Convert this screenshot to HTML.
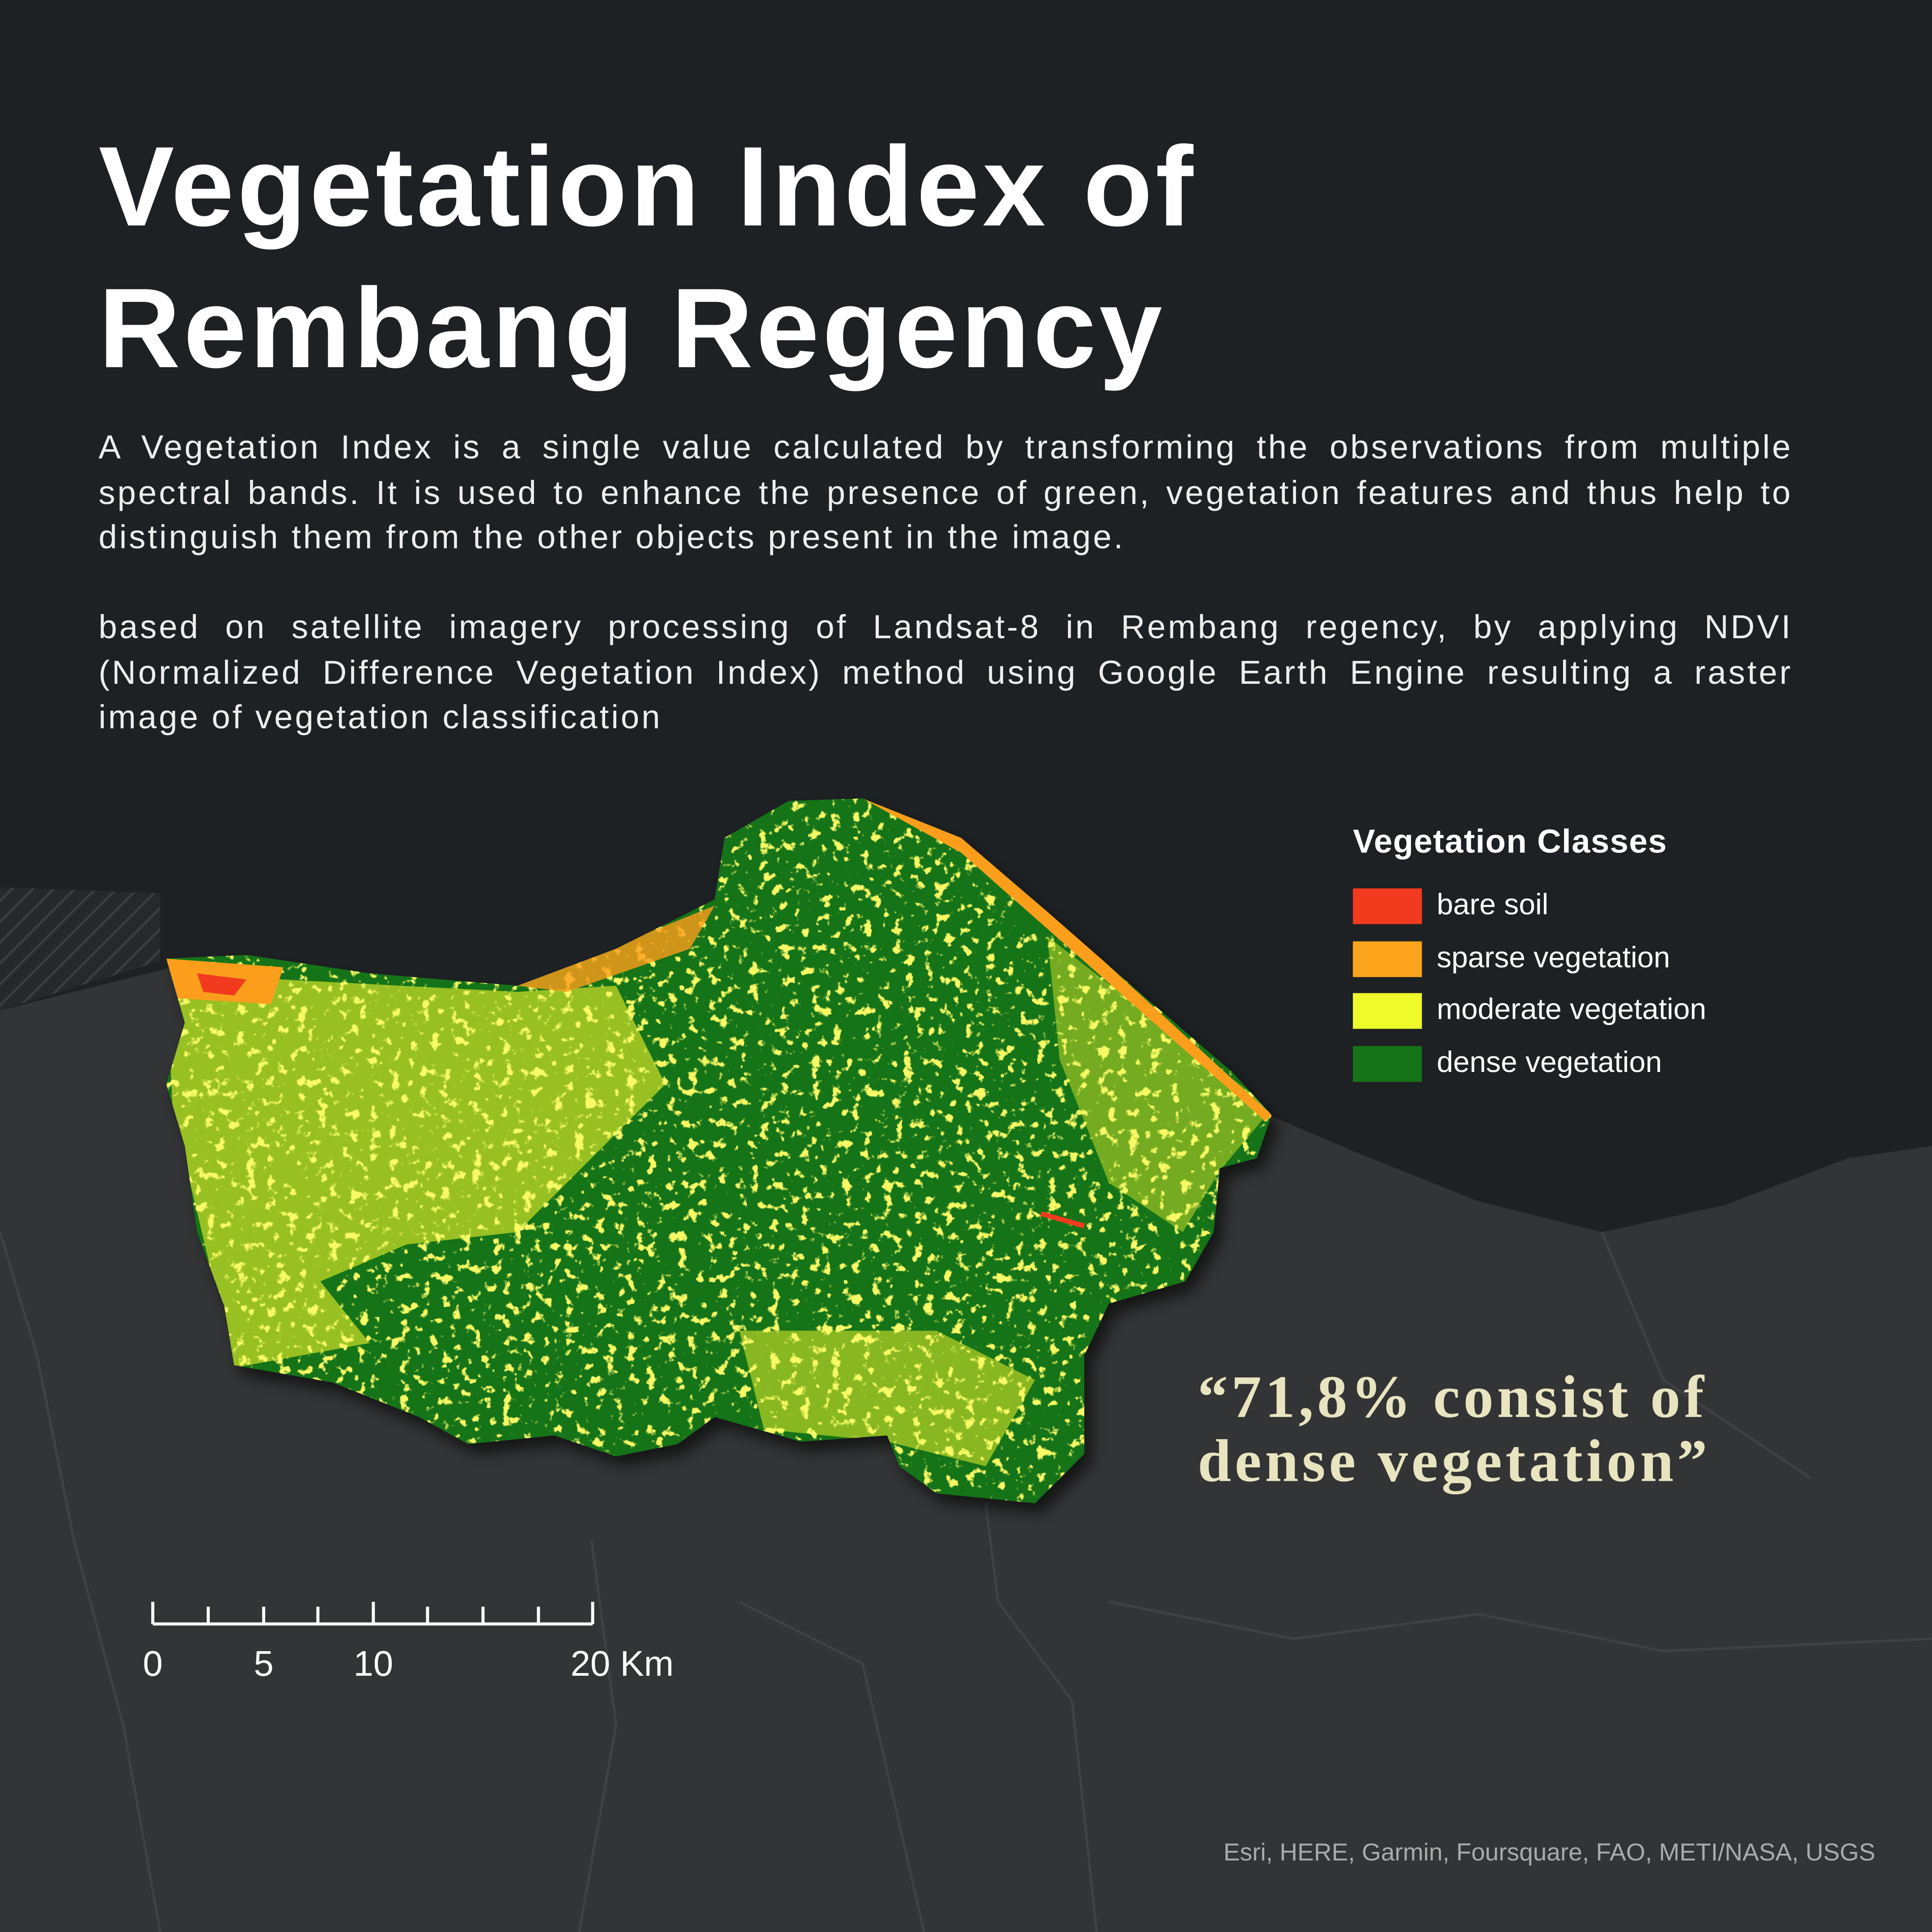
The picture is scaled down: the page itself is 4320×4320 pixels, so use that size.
<!DOCTYPE html>
<html><head><meta charset="utf-8">
<style>
html,body{margin:0;padding:0;background:#1e2124;}
#wrap{width:4320px;height:4320px;overflow:hidden;position:relative;}
#s{position:absolute;left:0;top:0;width:1568px;height:1568px;transform:scale(2.755102);transform-origin:0 0;font-family:"Liberation Sans",sans-serif;}
.abs{position:absolute;}
</style></head>
<body>
<div id="wrap">
<div id="s">
<svg class="abs" style="left:0;top:0" width="1568" height="1568" viewBox="0 0 1568 1568">
<defs>
<pattern id="hatch" width="12" height="12" patternUnits="userSpaceOnUse" patternTransform="rotate(45)">
<rect width="12" height="12" fill="#26292c"/><line x1="0" y1="0" x2="0" y2="12" stroke="#3a3d40" stroke-width="4"/></pattern>
<filter id="speck" x="0" y="0" width="100%" height="100%">
<feTurbulence type="fractalNoise" baseFrequency="0.12" numOctaves="3" seed="4"/>
<feColorMatrix type="matrix" values="0 0 0 0 0.93  0 0 0 0 0.95  0 0 0 0 0.13  0 0 0 10 -5.9"/>
</filter>
<filter id="shadow"><feDropShadow dx="6" dy="8" stdDeviation="6" flood-color="#000" flood-opacity="0.6"/></filter>
<clipPath id="reg"><path id="regpath" d="M135,778 L200,775 L300,790 L420,800 L500,770 L580,730 L588,680 L640,650 L700,648 L780,680 L850,740 L930,810 L1000,870 L1032,905 L1020,940 L990,948 L985,1000 L962,1040 L900,1058 L880,1100 L880,1180 L840,1220 L760,1212 L730,1190 L720,1165 L650,1170 L580,1150 L550,1172 L500,1182 L450,1165 L380,1172 L340,1150 L270,1122 L190,1108 L182,1060 L160,1000 L150,930 L135,880 L150,830 Z"/></clipPath>
</defs>
<rect width="1568" height="1568" fill="#1e2124"/>
<path d="M0,720 L130,725 L130,780 L0,820 Z" fill="url(#hatch)"/>
<path d="M0,820 L140,785 L1030,905 L1100,935 L1200,975 L1300,1000 L1400,978 L1500,940 L1568,930 L1568,1568 L0,1568 Z" fill="#333435"/>
<g stroke="#3f4143" stroke-width="2" fill="none">
<path d="M0,1000 L30,1100 L60,1250 L100,1400 L130,1568"/>
<path d="M480,1250 L500,1400 L470,1568"/>
<path d="M800,1220 L810,1300 L870,1380 L890,1568"/>
<path d="M900,1300 L1050,1330 L1200,1310 L1350,1340 L1568,1330"/>
<path d="M1300,1000 L1350,1120 L1470,1200"/>
<path d="M600,1300 L700,1350 L750,1568"/>
</g>
<g filter="url(#shadow)"><use href="#regpath" fill="#157318"/></g>
<g clip-path="url(#reg)">
<use href="#regpath" fill="#157318"/>
<path d="M135,790 L420,805 L500,800 L540,880 L420,1000 L330,1010 L260,1040 L300,1090 L190,1110 L140,900 Z" fill="#e8ef2a" opacity="0.62"/>
<path d="M600,1080 L760,1080 L840,1120 L800,1190 L720,1170 L620,1160 Z" fill="#e8ef2a" opacity="0.55"/>
<path d="M850,760 L1032,900 L990,950 L960,1000 L900,960 L860,860 Z" fill="#e8ef2a" opacity="0.45"/>
<rect x="130" y="640" width="910" height="590" filter="url(#speck)"/>
<path d="M135,778 L230,785 L220,815 L140,810 Z" fill="#fc9e1c"/>
<path d="M160,790 L200,795 L190,808 L165,805 Z" fill="#f23a1f"/>
<path d="M420,800 L580,735 L560,770 L460,805 Z" fill="#fc9e1c" opacity="0.8"/>
<path d="M700,648 L790,683 L1032,905 L1027,910 L780,692 Z" fill="#fc9e1c"/>
<path d="M845,985 L880,995" stroke="#f23a1f" stroke-width="4"/>
</g>
<g stroke="#fff" stroke-width="2.5" fill="none">
<line x1="124" y1="1318" x2="481" y2="1318"/>
<line x1="124" y1="1300" x2="124" y2="1318"/><line x1="169" y1="1304" x2="169" y2="1318"/>
<line x1="214" y1="1304" x2="214" y2="1318"/><line x1="258" y1="1304" x2="258" y2="1318"/>
<line x1="303" y1="1300" x2="303" y2="1318"/><line x1="347" y1="1304" x2="347" y2="1318"/>
<line x1="392" y1="1304" x2="392" y2="1318"/><line x1="437" y1="1304" x2="437" y2="1318"/>
<line x1="481" y1="1300" x2="481" y2="1318"/>
</g>
<g fill="#fff" font-size="29" font-family="Liberation Sans, sans-serif">
<text x="124" y="1360" text-anchor="middle">0</text><text x="214" y="1360" text-anchor="middle">5</text>
<text x="303" y="1360" text-anchor="middle">10</text><text x="463" y="1360">20 Km</text></g>
</svg>
<div class="abs" style="left:80px;top:95px;color:#fff;font-weight:bold;font-size:92px;line-height:115px;letter-spacing:2.5px;">Vegetation Index of<br>Rembang Regency</div>
<div class="abs" style="left:80px;top:345px;width:1375px;color:#eee;font-size:27px;line-height:36.5px;letter-spacing:1.8px;text-align:justify;">A Vegetation Index is a single value calculated by transforming the observations from multiple spectral bands. It is used to enhance the presence of green, vegetation features and thus help to distinguish them from the other objects present in the image.<br><br>based on satellite imagery processing of Landsat-8 in Rembang regency, by applying NDVI (Normalized Difference Vegetation Index) method using Google Earth Engine resulting a raster image of vegetation classification</div>
<div class="abs" style="left:1098px;top:668px;color:#fff;">
<div style="font-weight:bold;font-size:27px;margin-bottom:22px;letter-spacing:0.5px;">Vegetation Classes</div>
<div style="height:42.5px;font-size:24px;"><span style="display:inline-block;width:56px;height:29px;background:#f23a1f;vertical-align:middle;margin-right:12px"></span>bare soil</div>
<div style="height:42.5px;font-size:24px;"><span style="display:inline-block;width:56px;height:29px;background:#fca51c;vertical-align:middle;margin-right:12px"></span>sparse vegetation</div>
<div style="height:42.5px;font-size:24px;"><span style="display:inline-block;width:56px;height:29px;background:#eefa2a;vertical-align:middle;margin-right:12px"></span>moderate vegetation</div>
<div style="height:42.5px;font-size:24px;"><span style="display:inline-block;width:56px;height:29px;background:#157318;vertical-align:middle;margin-right:12px"></span>dense vegetation</div>
</div>
<div class="abs" style="left:972px;top:1108px;color:#e8e4c0;font-family:'Liberation Serif',serif;font-weight:bold;font-size:49px;line-height:52px;letter-spacing:2.8px;">“71,8% consist of<br>dense vegetation”</div>
<div class="abs" style="right:46px;top:1493px;color:#aaa;font-size:20px;">Esri, HERE, Garmin, Foursquare, FAO, METI/NASA, USGS</div>
</div></div>
</body></html>
